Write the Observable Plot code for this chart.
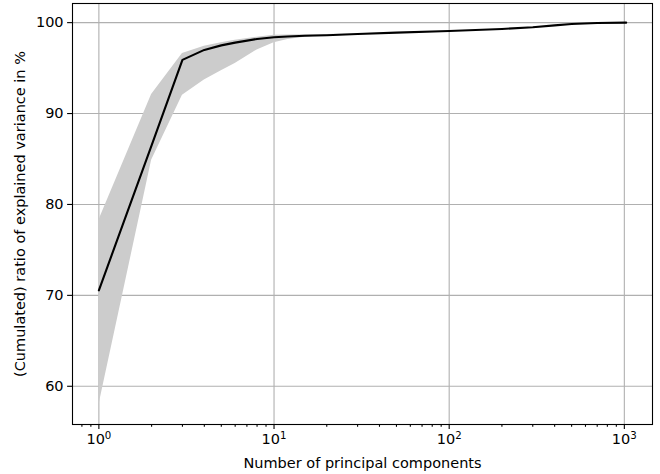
<!DOCTYPE html>
<html>
<head>
<meta charset="utf-8">
<script src="https://cdn.jsdelivr.net/npm/d3@7"></script>
<script src="https://cdn.jsdelivr.net/npm/@observablehq/plot@0.6"></script>
<style>
  html, body { margin: 0; padding: 0; background: #fff; }
  #chart svg { display: block; }
</style>
</head>
<body>
<div id="chart"></div>
<script>
// Number of principal components
const components = [1, 2, 3, 4, 5, 6, 8, 10, 12, 15, 20, 30, 50, 100, 200, 300, 400, 500, 700, 1024];
// Mean cumulated explained variance (%)
const meanVals   = [70.55, 86.5, 95.9, 97.0, 97.5, 97.8, 98.2, 98.4, 98.47, 98.55, 98.62, 98.75, 98.9, 99.08, 99.3, 99.5, 99.7, 99.85, 99.96, 100];
// Lower edge of shaded band
const lowVals    = [57.9, 84.85, 92.0, 93.7, 94.7, 95.5, 97.0, 97.8, 98.15, 98.4, 98.6, 98.75, 98.9, 99.08, 99.3, 99.5, 99.7, 99.85, 99.96, 100];
// Upper edge of shaded band
const highVals   = [78.25, 92.1, 96.6, 97.4, 97.8, 98.05, 98.4, 98.6, 98.64, 98.68, 98.7, 98.77, 98.9, 99.08, 99.3, 99.5, 99.7, 99.85, 99.96, 100];

const xMajor = [1, 10, 100, 1000];
const xMajorExp = ["0", "1", "2", "3"];
const xMinor = [];
for (const d of [0.1, 1, 10, 100, 1000]) for (let k = 2; k <= 9; k++) {
  const v = d * k; if (v >= 0.707 && v <= 1448) xMinor.push(v);
}
const yTicks = [60, 70, 80, 90, 100];

const data = components.map((c, i) => ({c, mean: meanVals[i], lo: lowVals[i], hi: highVals[i]}));

const chart = Plot.plot({
  width: 660,
  height: 474,
  marginLeft: 72,
  marginRight: 8,
  marginTop: 3,
  marginBottom: 50,
  style: {fontFamily: "DejaVu Sans, sans-serif", fontSize: "14.5px", color: "black", background: "white"},
  x: {type: "log", domain: [0.707, 1448]},
  y: {domain: [55.795, 102.105]},
  marks: [
    Plot.gridX(xMajor, {stroke: "#b0b0b0", strokeOpacity: 1, strokeWidth: 1.1}),
    Plot.gridY(yTicks, {stroke: "#b0b0b0", strokeOpacity: 1, strokeWidth: 1.1}),
    Plot.areaY(data, {x: "c", y1: "lo", y2: "hi", fill: "#cccccc", fillOpacity: 1}),
    Plot.lineY(data, {x: "c", y: "mean", stroke: "black", strokeWidth: 2.1}),
    Plot.axisX({ticks: xMinor, tickSize: 2.8, tickFormat: () => "", strokeWidth: 1.1, label: null}),
    Plot.axisX({ticks: xMajor, tickSize: 4.9, tickPadding: 4, strokeWidth: 1.1, fontSize: 14.5,
      tickFormat: (d) => "10^" + xMajorExp[xMajor.indexOf(d)],
      label: "Number of principal components", labelAnchor: "center", labelArrow: "none", labelOffset: 43}),
    Plot.axisY({ticks: yTicks, tickSize: 4.9, tickPadding: 4, strokeWidth: 1.1, fontSize: 14.5,
      label: "(Cumulated) ratio of explained variance in %", labelAnchor: "center", labelArrow: "none", labelOffset: 58}),
    Plot.frame({stroke: "black", strokeWidth: 1.1})
  ]
});
document.getElementById("chart").appendChild(chart);

// Render "10^n" tick labels with a real superscript
d3.select(chart).selectAll("text").each(function () {
  const t = this.textContent;
  const m = /^10\^(\d)$/.exec(t);
  if (!m) return;
  const sel = d3.select(this);
  sel.text("10");
  sel.append("tspan").attr("dy", "-0.45em").attr("font-size", "10.2px").text(m[1]);
});
</script>
</body>
</html>
